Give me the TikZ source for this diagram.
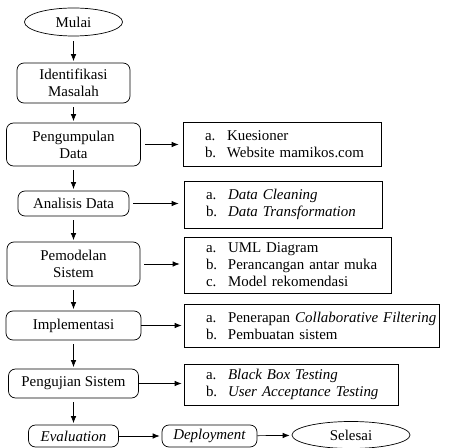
\documentclass[tikz,border=0pt]{standalone}
\usepackage{fontspec}
\setmainfont{Liberation Serif}
\usetikzlibrary{shapes.geometric,arrows.meta}
\newcommand{\itm}[2]{\hspace*{0.44cm}\makebox[0.44cm][l]{#1}#2}

\begin{document}
\begin{tikzpicture}[
  every node/.style={font=\fontsize{8.5}{9.6}\selectfont},
  proc/.style={draw, thin, rounded corners=0.14cm, align=center, inner sep=0pt},
  term/.style={draw, thin, ellipse, inner sep=0pt},
  list/.style={draw, thin, align=left, inner xsep=0pt, inner ysep=0pt},
  arr/.style={thin, -{Latex[length=1.4mm,width=1.1mm]}}
]
\useasboundingbox (0,0) rectangle (8.98,-8.96);

% MAIN FLOW (left column)
\node[term, minimum width=1.96cm, minimum height=0.56cm] (mulai) at (1.47,-0.44) {Mulai};
\node[proc, minimum width=2.26cm, minimum height=0.80cm] (ident) at (1.47,-1.66) {Identifikasi\\Masalah};
\node[proc, minimum width=2.68cm, minimum height=0.86cm] (kumpul) at (1.47,-2.89) {Pengumpulan\\Data};
\node[proc, minimum width=2.22cm, minimum height=0.50cm] (analisis) at (1.47,-4.07) {Analisis Data};
\node[proc, minimum width=2.66cm, minimum height=0.88cm] (model) at (1.47,-5.28) {Pemodelan\\Sistem};
\node[proc, minimum width=2.70cm, minimum height=0.58cm] (impl) at (1.47,-6.51) {Implementasi};
\node[proc, minimum width=2.60cm, minimum height=0.58cm] (uji) at (1.47,-7.67) {Pengujian Sistem};

% BOTTOM ROW
\node[proc, minimum width=1.80cm, minimum height=0.44cm] (eval) at (1.47,-8.72) {\textit{Evaluation}};
\node[proc, minimum width=1.90cm, minimum height=0.44cm] (deploy) at (4.19,-8.72) {\textit{Deployment}};
\node[term, minimum width=2.36cm, minimum height=0.54cm] (selesai) at (7.02,-8.70) {Selesai};

% DETAIL BOXES (right column)
\node[list, text width=3.96cm, minimum height=0.88cm] (kues) at (5.64,-2.88)
  {\itm{a.}{Kuesioner}\\\itm{b.}{Website mamikos.com}};
\node[list, text width=3.96cm, minimum height=0.94cm] (prep) at (5.66,-4.09)
  {\itm{a.}{\textit{Data Cleaning}}\\\itm{b.}{\textit{Data Transformation}}};
\node[list, text width=4.14cm, minimum height=1.12cm] (uml) at (5.75,-5.30)
  {\itm{a.}{UML Diagram}\\\itm{b.}{Perancangan antar muka}\\\itm{c.}{Model rekomendasi}};
\node[list, text width=5.10cm, minimum height=0.86cm] (cf) at (6.23,-6.51)
  {\itm{a.}{Penerapan \textit{Collaborative Filtering}}\\\itm{b.}{Pembuatan sistem}};
\node[list, text width=4.28cm, minimum height=0.82cm] (test) at (5.82,-7.69)
  {\itm{a.}{\textit{Black Box Testing}}\\\itm{b.}{\textit{User Acceptance Testing}}};

% vertical arrows
\draw[arr, shorten <=0.1cm, shorten >=0.03cm] (mulai) -- (ident);
\draw[arr, shorten <=0.08cm, shorten >=0.03cm] (ident) -- (kumpul);
\draw[arr, shorten <=0.08cm, shorten >=0.03cm] (kumpul) -- (analisis);
\draw[arr, shorten <=0.08cm, shorten >=0.03cm] (analisis) -- (model);
\draw[arr, shorten <=0.08cm, shorten >=0.03cm] (model) -- (impl);
\draw[arr, shorten <=0.08cm, shorten >=0.03cm] (impl) -- (uji);
\draw[arr, shorten <=0.08cm, shorten >=0.03cm] (uji) -- (eval);

% horizontal arrows
\draw[arr, shorten <=0.08cm, shorten >=0.08cm] (kumpul.east) -- (kumpul.east -| kues.west);
\draw[arr, shorten <=0.08cm, shorten >=0.1cm] (analisis.east) -- (analisis.east -| prep.west);
\draw[arr, shorten <=0.08cm, shorten >=0.08cm] (model.east) -- (model.east -| uml.west);
\draw[arr, shorten >=0.04cm] (impl.east) -- (impl.east -| cf.west);
\draw[arr, shorten >=0.04cm] (uji.east) -- (uji.east -| test.west);
\draw[arr, shorten >=0.04cm] (eval) -- (deploy);
\draw[arr, shorten >=0.04cm] (deploy) -- (selesai);

\end{tikzpicture}
\end{document}
